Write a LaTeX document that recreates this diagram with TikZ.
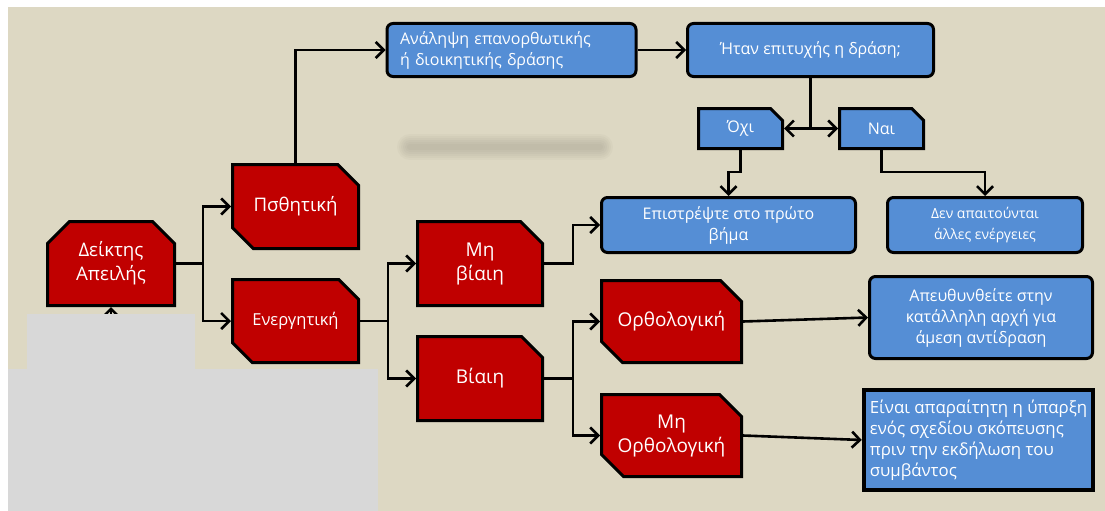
\documentclass[tikz,border=0pt]{standalone}
\usepackage{fontspec}
\setmainfont{Open Sans}
\usetikzlibrary{shapes.misc,arrows.meta,calc}
\definecolor{bg}{HTML}{DDD8C3}
\definecolor{redc}{HTML}{C00000}
\definecolor{bluec}{HTML}{558ED5}
\definecolor{grayc}{HTML}{D8D8D8}
\begin{document}
\begin{tikzpicture}[x=1pt,y=-1pt,
  conn/.style={line width=2.6pt,-{Straight Barb[length=8pt,width=16pt]}},
  plain/.style={line width=2.6pt},
  redbox/.style={chamfered rectangle, draw=black, line width=3pt, fill=redc,
    text=white, inner sep=0pt, align=center,
    chamfered rectangle xsep=11pt, chamfered rectangle ysep=11pt},
  bluebox/.style={rectangle, rounded corners=6pt, draw=black, line width=3pt,
    fill=bluec, text=white, inner sep=0pt, align=center},
  bluechamf/.style={chamfered rectangle, chamfered rectangle corners=north east,
    draw=black, line width=3pt, fill=bluec, text=white, inner sep=0pt,
    chamfered rectangle xsep=6pt, chamfered rectangle ysep=6pt},
  fbig/.style={font=\fontsize{18.7}{24}\selectfont},
  fred/.style={font=\fontsize{19}{24}\selectfont},
  fene/.style={font=\fontsize{16.5}{22}\selectfont},
  fsm/.style={font=\fontsize{16}{21}\selectfont},
  fein/.style={font=\fontsize{16.8}{21}\selectfont},
  fxs/.style={font=\fontsize{14}{21}\selectfont}]
\useasboundingbox (0,0) rectangle (1105,511);
\fill[white] (0,0) rectangle (1105,511);
\fill[bg] (8,7) rectangle (1105,511);
% blurred shadow
\foreach \w in {26,22,18,14,10,6}{
  \draw[line width=\w pt, line cap=round, black!50!bg, opacity=0.045] (410,147) -- (600,147);}
% nodes
\node[redbox, fbig, chamfered rectangle corners={north west,north east},
  minimum width=127pt, minimum height=84pt] (dk) at (111,263.5) {Δείκτης\\Απειλής};
\node[redbox, fbig, chamfered rectangle corners={north east,south west},
  minimum width=126pt, minimum height=84pt] (pas) at (295.5,206.5) {Πσθητική};
\node[redbox, fene, chamfered rectangle corners={north east,south west},
  minimum width=126pt, minimum height=83pt] (ene) at (295.5,321) {Ενεργητική};
\node[redbox, fred, chamfered rectangle corners={north east},
  minimum width=125pt, minimum height=84pt] (mbi) at (480,263.5) {Μη\\βίαιη};
\node[redbox, fred, chamfered rectangle corners={north east},
  minimum width=125pt, minimum height=84pt] (bia) at (480,378.5) {Βίαιη};
\node[redbox, fred, chamfered rectangle corners={north east,south west},
  minimum width=140pt, minimum height=82pt] (orth) at (671.5,321.5) {Ορθολογική};
\node[redbox, fred, chamfered rectangle corners={north east,south west},
  minimum width=140pt, minimum height=82pt] (morth) at (671.5,435.5) {Μη\\Ορθολογική};
\node[bluebox, fsm, align=left, text width=223pt, inner xsep=13pt,
  minimum width=246pt, minimum height=53pt] (anal) at (511.5,50) {Ανάληψη επανορθωτικής\\ή διοικητικής δράσης};
\node[bluebox, fsm, minimum width=246pt, minimum height=53pt] (itan) at (810.5,50) {Ήταν επιτυχής η δράση;};
\node[bluechamf, fsm, minimum width=84pt, minimum height=40pt] (ochi) at (740.5,128.5) {Όχι};
\node[bluechamf, fsm, minimum width=84pt, minimum height=40pt] (nai) at (881.5,128.5) {Ναι};
\node[bluebox, fsm, minimum width=254pt, minimum height=55pt] (epi) at (728.5,225) {Επιστρέψτε στο πρώτο\\βήμα};
\node[bluebox, fxs, minimum width=195pt, minimum height=55pt] (den) at (985,225) {Δεν απαιτούνται\\άλλες ενέργειες};
\node[bluebox, fsm, minimum width=223pt, minimum height=82pt] (apef) at (981,317.5) {Απευθυνθείτε στην\\κατάλληλη αρχή για\\άμεση αντίδραση};
\node[rectangle, draw=black, line width=4.5pt, fill=bluec, text=white, inner sep=0pt,
  align=left, fein, minimum width=229pt, minimum height=100pt] (einai) at (978.5,440)
  {Είναι απαραίτητη η ύπαρξη\\ενός  σχεδίου σκόπευσης\\πριν την εκδήλωση του\\συμβάντος};
% connectors
\coordinate (j1) at ([xshift=27pt]dk.east);
\draw[plain] (dk.east) -- (j1);
\draw[conn] (j1) |- (pas.west);
\draw[conn] (j1) |- (ene.west);
\draw[conn] (pas.north) |- (anal.west);
\draw[conn] (anal.east) -- (itan.west);
\coordinate (j3) at (itan.south |- ochi.east);
\draw[plain] (itan.south) -- (j3);
\draw[conn] (j3) -- (ochi.east);
\draw[conn] (j3) -- (nai.west);
\draw[conn] (ochi.south) -- ++(0,22) -| (epi.north);
\draw[conn] (nai.south) -- ++(0,22) -| (den.north);
\coordinate (j2) at ([xshift=28pt]ene.east);
\draw[plain] (ene.east) -- (j2);
\draw[conn] (j2) |- (mbi.west);
\draw[conn] (j2) |- (bia.west);
\draw[conn] (mbi.east) -- ++(29,0) |- (epi.west);
\coordinate (j4) at ([xshift=29pt]bia.east);
\draw[plain] (bia.east) -- (j4);
\draw[conn] (j4) |- (orth.west);
\draw[conn] (j4) |- (morth.west);
\draw[conn] (orth.east) -- (apef.west);
\draw[conn] (morth.east) -- (einai.west);
\coordinate (stub) at (111,322);
\draw[conn] (stub) -- (dk.south);
% gray cover
\fill[grayc] (27,314) rectangle (195,369);
\fill[grayc] (8,369) rectangle (378,511);
\end{tikzpicture}
\end{document}
